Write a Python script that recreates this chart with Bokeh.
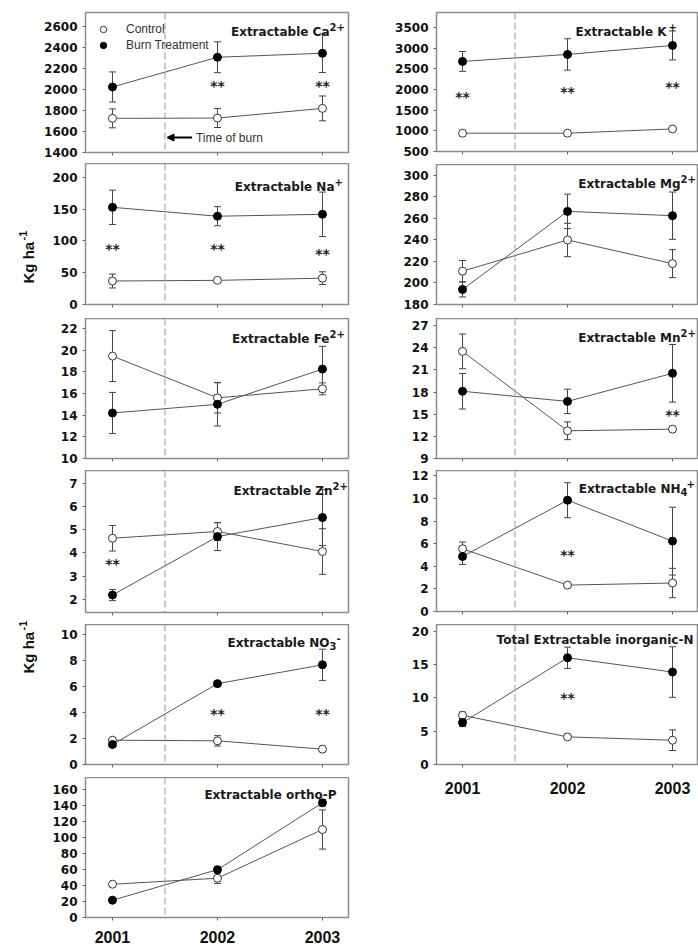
from math import pi
from bokeh.plotting import figure
from bokeh.models import (Range1d, FixedTicker, Label, Whisker, TeeHead, ColumnDataSource,
                          Span, Legend, LegendItem, Arrow, NormalHead, CustomJSTickFormatter)
from bokeh.layouts import row, column
from bokeh.core.properties import value
from bokeh.embed import file_html
from bokeh.resources import INLINE

# ---------------- data ----------------
YEARS = [2001, 2002, 2003]
BURN_YEAR = 2001.5

ca_control = [1725, 1728, 1820]
ca_control_se = [90, 90, 118]
ca_burn = [2024, 2307, 2345]
ca_burn_se = [143, 147, 183]
ca_star_x = [2002, 2003]
ca_star_y = [2037, 2037]
ca_ticks = [1400, 1600, 1800, 2000, 2200, 2400, 2600]

k_control = [942, 942, 1046]
k_control_se = [50, 60, 30]
k_burn = [2680, 2848, 3066]
k_burn_se = [240, 380, 350]
k_star_x = [2001, 2002, 2003]
k_star_y = [1827, 1931, 2068]
k_ticks = [500, 1000, 1500, 2000, 2500, 3000, 3500]

na_control = [37, 38, 41.5]
na_control_se = [11, 3, 10]
na_burn = [153, 139, 142]
na_burn_se = [27, 15, 35]
na_star_x = [2001, 2002, 2003]
na_star_y = [87, 87, 80]
na_ticks = [0, 50, 100, 150, 200]

mg_control = [211, 240, 218]
mg_control_se = [10, 15.5, 13]
mg_burn = [194, 266.6, 262.6]
mg_burn_se = [7, 16, 22]
mg_star_x = []
mg_star_y = []
mg_ticks = [180, 200, 220, 240, 260, 280, 300]

fe_control = [19.45, 15.6, 16.43]
fe_control_se = [2.35, 1.4, 0.55]
fe_burn = [14.2, 15.0, 18.25]
fe_burn_se = [1.9, 2.0, 2.1]
fe_star_x = []
fe_star_y = []
fe_ticks = [10, 12, 14, 16, 18, 20, 22]

mn_control = [23.5, 12.75, 12.97]
mn_control_se = [2.35, 1.2, 0.3]
mn_burn = [18.1, 16.73, 20.53]
mn_burn_se = [2.4, 1.65, 3.9]
mn_star_x = [2003]
mn_star_y = [14.9]
mn_ticks = [9, 12, 15, 18, 21, 24, 27]

zn_control = [4.63, 4.92, 4.06]
zn_control_se = [0.55, 0.38, 0.98]
zn_burn = [2.19, 4.70, 5.52]
zn_burn_se = [0.24, 0.6, 1.2]
zn_star_x = [2001]
zn_star_y = [3.54]
zn_ticks = [2, 3, 4, 5, 6, 7]

nh4_control = [5.55, 2.34, 2.52]
nh4_control_se = [0.6, 0.15, 1.3]
nh4_burn = [4.87, 9.85, 6.23]
nh4_burn_se = [0.7, 1.55, 3.0]
nh4_star_x = [2002]
nh4_star_y = [5.04]
nh4_ticks = [0, 2, 4, 6, 8, 10, 12]

no3_control = [1.87, 1.82, 1.18]
no3_control_se = [0.1, 0.4, 0.1]
no3_burn = [1.54, 6.22, 7.67]
no3_burn_se = [0.1, 0.1, 1.2]
no3_star_x = [2002, 2003]
no3_star_y = [3.86, 3.86]
no3_ticks = [0, 2, 4, 6, 8, 10]

totn_control = [7.4, 4.15, 3.65]
totn_control_se = [0.5, 0.4, 1.55]
totn_burn = [6.3, 16.05, 13.9]
totn_burn_se = [0.6, 1.6, 3.8]
totn_star_x = [2002]
totn_star_y = [10.0]
totn_ticks = [0, 5, 10, 15, 20]

p_control = [41.6, 49.1, 110]
p_control_se = [2, 6.5, 24.5]
p_burn = [21.6, 59.8, 143.4]
p_burn_se = [2, 3, 4]
p_star_x = []
p_star_y = []
p_ticks = [0, 20, 40, 60, 80, 100, 120, 140, 160]

# ---------------- styling ----------------
TICK_FONT = "DejaVu Sans"
TITLE_FONT = "DejaVu Sans"
LINE_COL = "#555555"
ERR_COL = "#444444"
FRAME_COL = "#8c8c8c"


def make_panel(ctrl, ctrl_se, burn, burn_se, star_x, star_y, ticks, yr, xr,
               fw, fh, bl, br, bt, bb, title_main, title_extra, t_dx, t_dy,
               show_years=False, year_standoff=7):
    p = figure(frame_width=fw, frame_height=fh, x_range=Range1d(*xr), y_range=Range1d(*yr),
               output_backend="svg", toolbar_location=None, title=None,
               min_border_left=bl, min_border_right=br, min_border_top=bt, min_border_bottom=bb)
    p.grid.visible = False
    p.outline_line_color = FRAME_COL
    p.outline_line_width = 1.5
    p.background_fill_color = "white"
    p.border_fill_color = "white"

    xa = p.xaxis[0]
    xa.ticker = FixedTicker(ticks=YEARS)
    xa.axis_line_color = None
    xa.major_tick_out = 3
    xa.major_tick_in = 0
    xa.minor_tick_out = 0
    xa.minor_tick_in = 0
    xa.major_tick_line_color = "#666666"
    if show_years:
        xa.major_label_text_font = "Liberation Sans"
        xa.major_label_text_font_style = "bold"
        xa.major_label_text_font_size = "16px"
        xa.major_label_text_color = "#111111"
        xa.major_label_standoff = year_standoff
    else:
        xa.formatter = CustomJSTickFormatter(code="return ''")
        xa.major_label_text_font_size = "1px"
        xa.major_label_standoff = 0

    ya = p.yaxis[0]
    ya.ticker = FixedTicker(ticks=ticks)
    ya.axis_line_color = None
    ya.major_tick_out = 3
    ya.major_tick_in = 0
    ya.minor_tick_out = 0
    ya.minor_tick_in = 0
    ya.major_tick_line_color = "#666666"
    ya.major_label_text_font = TICK_FONT
    ya.major_label_text_font_style = "bold"
    ya.major_label_text_font_size = "12px"
    ya.major_label_text_color = "#111111"
    ya.major_label_standoff = 5

    p.add_layout(Span(location=BURN_YEAR, dimension="height", line_color="#9a9a9a",
                      line_dash="7 3", line_width=1))

    for vals, se in ((ctrl, ctrl_se), (burn, burn_se)):
        src = ColumnDataSource(dict(x=YEARS,
                                    lo=[v - e for v, e in zip(vals, se)],
                                    hi=[v + e for v, e in zip(vals, se)]))
        p.add_layout(Whisker(base="x", lower="lo", upper="hi", source=src,
                             line_color=ERR_COL, line_width=1,
                             upper_head=TeeHead(size=7, line_color=ERR_COL, line_width=1),
                             lower_head=TeeHead(size=7, line_color=ERR_COL, line_width=1)))
        p.line(YEARS, vals, line_color=LINE_COL, line_width=1)

    r_c = p.scatter(YEARS, ctrl, marker="circle", size=8, fill_color="white",
                    line_color="#333333", line_width=1)
    r_b = p.scatter(YEARS, burn, marker="circle", size=8, fill_color="black",
                    line_color="black", line_width=1)

    if star_x:
        p.text(x=star_x, y=star_y, text=["**"] * len(star_x),
               text_font=value(TITLE_FONT), text_font_style="bold", text_font_size="14px",
               text_align="center", text_baseline="middle", text_color="#222222")

    # title with super/subscripts
    xs = (xr[1] - xr[0]) / fw
    ys = (yr[1] - yr[0]) / fh
    x_end = xr[1] - t_dx * xs
    y_base = yr[1] - t_dy * ys
    p.add_layout(Label(x=x_end, y=y_base, text=title_main, text_align="right",
                       text_baseline="alphabetic", text_font=TITLE_FONT,
                       text_font_style="bold", text_font_size="12px", text_color="#1a1a1a"))
    for txt, kind, off in title_extra:
        shift = 5 if kind == "sup" else -3
        p.add_layout(Label(x=x_end + off * xs, y=y_base + shift * ys, text=txt,
                           text_align="left", text_baseline="alphabetic", text_font=TITLE_FONT,
                           text_font_style="bold", text_font_size="10px", text_color="#1a1a1a"))
    return p, r_c, r_b


XL = (2000.743, 2003.248)
XR = (2000.752, 2003.238)

ca, ca_rc, ca_rb = make_panel(ca_control, ca_control_se, ca_burn, ca_burn_se, ca_star_x, ca_star_y,
                              ca_ticks, (1400, 2733), XL, 263, 140, 45, 38, 12, 11,
                              "Extractable Ca", [("2+", "sup", 0)], 19, 19)
na, _, _ = make_panel(na_control, na_control_se, na_burn, na_burn_se, na_star_x, na_star_y,
                      na_ticks, (0, 222), XL, 263, 141, 45, 38, 0, 14,
                      "Extractable Na", [("+", "sup", 0)], 14, 23)
fe, _, _ = make_panel(fe_control, fe_control_se, fe_burn, fe_burn_se, fe_star_x, fe_star_y,
                      fe_ticks, (10, 22.92), XL, 263, 140, 45, 38, 0, 12,
                      "Extractable Fe", [("2+", "sup", 0)], 19, 20)
zn, _, _ = make_panel(zn_control, zn_control_se, zn_burn, zn_burn_se, zn_star_x, zn_star_y,
                      zn_ticks, (1.44, 7.54), XL, 263, 142, 45, 38, 0, 12,
                      "Extractable Zn", [("2+", "sup", 0)], 16, 20)
no3, _, _ = make_panel(no3_control, no3_control_se, no3_burn, no3_burn_se, no3_star_x, no3_star_y,
                       no3_ticks, (0, 10.77), XL, 263, 140, 45, 38, 0, 13,
                       "Extractable NO", [("3", "sub", 0), ("-", "sup", 7)], 19, 18)
pp, _, _ = make_panel(p_control, p_control_se, p_burn, p_burn_se, p_star_x, p_star_y,
                      p_ticks, (0, 175), XL, 263, 140, 45, 38, 0, 29,
                      "Extractable ortho-P", [], 12, 17, show_years=True, year_standoff=10)

kk, _, _ = make_panel(k_control, k_control_se, k_burn, k_burn_se, k_star_x, k_star_y,
                      k_ticks, (500, 3863), XR, 261, 139, 50, 1, 12, 13,
                      "Extractable K", [("+", "sup", 2)], 31, 19)
mg, _, _ = make_panel(mg_control, mg_control_se, mg_burn, mg_burn_se, mg_star_x, mg_star_y,
                      mg_ticks, (180, 310.2), XR, 261, 140, 50, 1, 0, 14,
                      "Extractable Mg", [("2+", "sup", 0)], 17, 19)
mn, _, _ = make_panel(mn_control, mn_control_se, mn_burn, mn_burn_se, mn_star_x, mn_star_y,
                      mn_ticks, (9, 27.95), XR, 261, 140, 50, 1, 0, 12,
                      "Extractable Mn", [("2+", "sup", 0)], 17, 19)
nh4, _, _ = make_panel(nh4_control, nh4_control_se, nh4_burn, nh4_burn_se, nh4_star_x, nh4_star_y,
                       nh4_ticks, (0, 12.48), XR, 261, 141, 50, 1, 0, 13,
                       "Extractable NH", [("4", "sub", 0), ("+", "sup", 6)], 17, 18)
totn, _, _ = make_panel(totn_control, totn_control_se, totn_burn, totn_burn_se, totn_star_x, totn_star_y,
                        totn_ticks, (0, 21.05), XR, 261, 140, 50, 1, 0, 40,
                        "Total Extractable inorganic-N", [], 4, 15, show_years=True, year_standoff=14)

# legend in the Ca panel
legend = Legend(items=[LegendItem(label=value("Control"), renderers=[ca_rc]),
                       LegendItem(label=value("Burn Treatment"), renderers=[ca_rb])],
                location=(10, 99), orientation="vertical", border_line_color=None,
                background_fill_alpha=0, padding=0, spacing=0, margin=0,
                glyph_width=16, glyph_height=16, label_height=16, label_standoff=15,
                label_text_font="Liberation Sans", label_text_font_size="12px",
                label_text_color="#333333")
ca.add_layout(legend)

# "Time of burn" arrow in the Ca panel
ca_xs = (XL[1] - XL[0]) / 263
ca_y = 1400 + 15 * (2733 - 1400) / 140
ca.add_layout(Arrow(end=NormalHead(size=7, fill_color="black", line_color="black"),
                    x_start=BURN_YEAR + 27 * ca_xs, y_start=ca_y,
                    x_end=BURN_YEAR + 2 * ca_xs, y_end=ca_y,
                    line_color="black", line_width=2))
ca.add_layout(Label(x=BURN_YEAR + 31 * ca_xs, y=ca_y, text="Time of burn", text_align="left",
                    text_baseline="middle", text_font="Liberation Sans", text_font_size="12px",
                    text_color="#333333"))

# y-axis titles strip
lab = figure(frame_width=40, frame_height=947, x_range=Range1d(0, 40), y_range=Range1d(947, 0),
             output_backend="svg", toolbar_location=None, title=None,
             x_axis_location=None, y_axis_location=None, min_border=0)
lab.outline_line_color = None
lab.grid.visible = False
for y_bottom in (283, 673):
    lab.add_layout(Label(x=28, y=y_bottom, text="Kg ha", angle=pi / 2, text_align="left",
                         text_baseline="alphabetic", text_font="Liberation Sans",
                         text_font_style="bold", text_font_size="15px", text_color="#111111"))
    lab.add_layout(Label(x=22, y=y_bottom - 43, text="-1", angle=pi / 2, text_align="left",
                         text_baseline="alphabetic", text_font="Liberation Sans",
                         text_font_style="bold", text_font_size="11px", text_color="#111111"))

layout = row(lab, column(ca, na, fe, zn, no3, pp), column(kk, mg, mn, nh4, totn))

open("out.html", "w").write(file_html(layout, INLINE))
